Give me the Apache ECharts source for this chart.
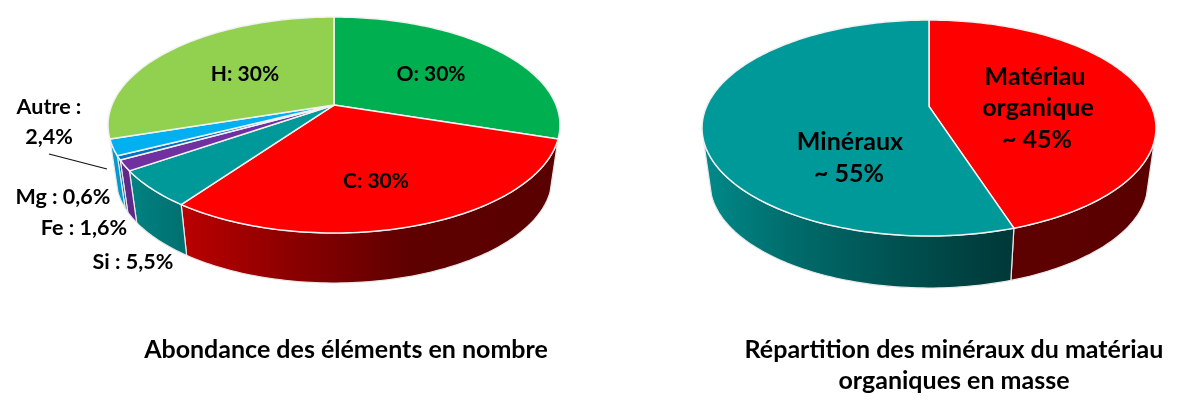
<!DOCTYPE html>
<html><head><meta charset="utf-8">
<style>html,body{margin:0;padding:0;background:#fff}#c{width:1200px;height:413px}</style>
<script src="https://cdn.jsdelivr.net/npm/echarts@6/dist/echarts.min.js"></script>
</head><body><div id="c"></div>
<script>
// ---- data ----
const elementNames = ['O', 'C', 'Si', 'Fe', 'Mg', 'Autre', 'H'];
const elementValues = [30, 30, 5.5, 1.6, 0.6, 2.4, 30];
const elementColors = ['#00b050', '#ff0000', '#009999', '#7030a0', '#0070c0', '#00b0f0', '#92d050'];
const massNames = ['Matériau organique', 'Minéraux'];
const massValues = [45, 55];
const massColors = ['#ff0000', '#009999'];
const elementCaption = 'Abondance des éléments en nombre';
const massCaption = 'Répartition des minéraux du matériau\norganiques en masse';

// ---- layout ----
const FONT = 'Lato, "Open Sans", sans-serif';
const leftGeom = {cx: 334, cy: 125, rx: 226, ry: 108, apex: 0.185, bcx: 334, bcy: 178, brx: 218, bry: 105};
const rightGeom = {cx: 929, cy: 128, rx: 227, ry: 108, apex: 0.2, bcx: 929, bcy: 183, brx: 219, bry: 105};
const leftLabels = [
  {text: 'O: 30%', x: 431, y: 74, size: 21},
  {text: 'C: 30%', x: 376, y: 181, size: 21},
  {text: 'H: 30%', x: 245, y: 74, size: 21},
  {text: 'Autre :', x: 49, y: 107, size: 21.5},
  {text: '2,4%', x: 49, y: 137, size: 21.5},
  {text: 'Mg : 0,6%', x: 63, y: 197, size: 21.5},
  {text: 'Fe : 1,6%', x: 84, y: 228, size: 21.5},
  {text: 'Si : 5,5%', x: 133, y: 262, size: 21.5}
];
const rightLabels = [
  {text: 'Matériau', x: 1035, y: 77, size: 25},
  {text: 'organique', x: 1038, y: 108, size: 25},
  {text: '~ 45%', x: 1037, y: 140, size: 25},
  {text: 'Minéraux', x: 850, y: 142, size: 25},
  {text: '~ 55%', x: 849, y: 174, size: 25}
];

// Perspective mapping of the unit disc onto the visible ellipse:
// the pie centre moves up by "apex" while the rim stays on the ellipse.
function project(theta, g, bottom) {
  const x = Math.sin(theta), y = Math.cos(theta), a = g.apex;
  const d = 1 + a * y;
  const px = x * Math.sqrt(1 - a * a) / d, py = (y + a) / d;
  return bottom ? [g.bcx + px * g.brx, g.bcy - py * g.bry]
                : [g.cx + px * g.rx, g.cy - py * g.ry];
}
function arc(a0, a1, g, bottom) {
  const pts = [], n = Math.max(2, Math.ceil((a1 - a0) / 0.02));
  for (let i = 0; i <= n; i++) pts.push(project(a0 + (a1 - a0) * i / n, g, bottom));
  return pts;
}
function spans(values) {
  const total = values.reduce((s, v) => s + v, 0);
  let acc = 0;
  return values.map(v => {
    const a0 = acc / total * 2 * Math.PI; acc += v;
    return [a0, acc / total * 2 * Math.PI];
  });
}
function shade(hex, f) {
  const n = parseInt(hex.slice(1), 16);
  const c = s => Math.round(((n >> s) & 255) * f);
  return `rgb(${c(16)},${c(8)},${c(0)})`;
}
const FRONT0 = 0.3 * 2 * Math.PI, FRONT1 = 0.7 * 2 * Math.PI;

function wallSeries(values, colors, g) {
  const sp = spans(values);
  return {
    type: 'custom', coordinateSystem: 'none', z: 1, silent: true, animation: false,
    data: values,
    renderItem(params) {
      const [a0, a1] = sp[params.dataIndex];
      const s = Math.max(a0, FRONT0), e = Math.min(a1, FRONT1);
      if (e <= s) return {type: 'group', children: []};
      const base = colors[params.dataIndex];
      const fill = new echarts.graphic.LinearGradient(g.cx - g.rx, 0, g.cx + g.rx, 0, [
        {offset: 0, color: shade(base, 0.9)},
        {offset: 0.2, color: shade(base, 0.7)},
        {offset: 0.44, color: shade(base, 0.52)},
        {offset: 0.67, color: shade(base, 0.37)},
        {offset: 1, color: shade(base, 0.35)}
      ], true);
      const pts = arc(s, e, g, false).concat(arc(s, e, g, true).reverse());
      return {type: 'polygon', shape: {points: pts},
              style: {fill, stroke: '#e8e8e8', lineWidth: 1.2, lineJoin: 'round'}};
    }
  };
}
function topSeries(values, colors, g) {
  const sp = spans(values);
  return {
    type: 'custom', coordinateSystem: 'none', z: 2, silent: true, animation: false,
    data: values,
    renderItem(params) {
      const [a0, a1] = sp[params.dataIndex];
      const pts = [[g.cx, g.cy - g.apex * g.ry]].concat(arc(a0, a1, g, false));
      return {type: 'polygon', shape: {points: pts},
              style: {fill: colors[params.dataIndex], stroke: '#f2f2f2', lineWidth: 1.5, lineJoin: 'round'}};
    }
  };
}
function textGraphics(list) {
  return list.map(l => ({
    type: 'text', x: l.x, y: l.y, z: 10,
    style: {text: l.text, fill: '#000', font: `bold ${l.size}px ${FONT}`, align: 'center', verticalAlign: 'middle'}
  }));
}

const chart = echarts.init(document.getElementById('c'), null, {renderer: 'canvas'});
chart.setOption({
  animation: false,
  backgroundColor: '#fff',
  title: [
    {text: elementCaption, left: 341, top: 329, textAlign: 'center',
     textStyle: {fontFamily: FONT, fontWeight: 'bold', fontSize: 25, color: '#000', lineHeight: 31}},
    {text: massCaption, left: 949, top: 329, textAlign: 'center',
     textStyle: {fontFamily: FONT, fontWeight: 'bold', fontSize: 25, color: '#000', lineHeight: 31}}
  ],
  series: [
    wallSeries(elementValues, elementColors, leftGeom),
    topSeries(elementValues, elementColors, leftGeom),
    wallSeries(massValues, massColors, rightGeom),
    topSeries(massValues, massColors, rightGeom)
  ],
  graphic: textGraphics(leftLabels).concat(textGraphics(rightLabels)).concat([
    {type: 'line', z: 10, shape: {x1: 49, y1: 154, x2: 107, y2: 169}, style: {stroke: '#111', lineWidth: 1.2}}
  ])
});
</script></body></html>
